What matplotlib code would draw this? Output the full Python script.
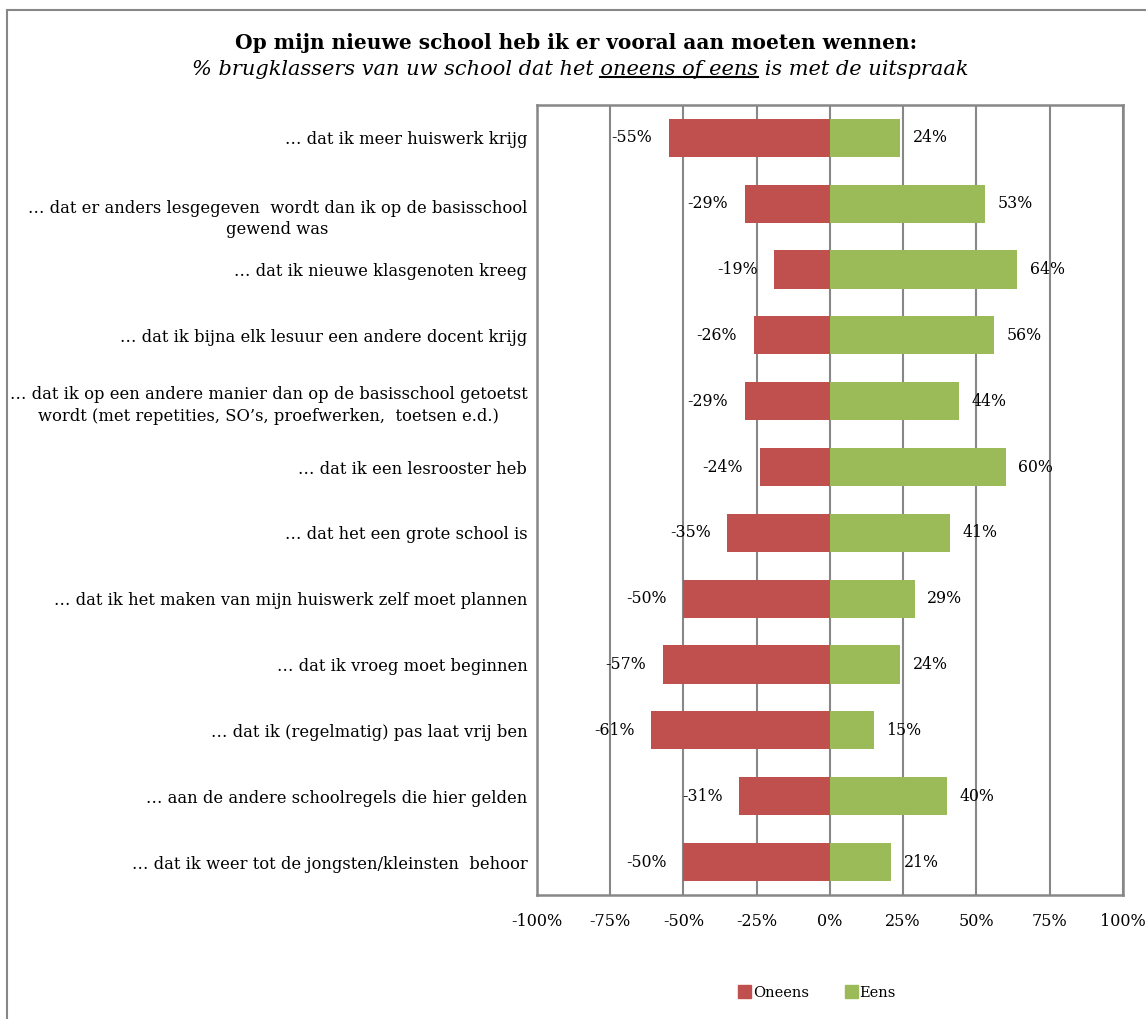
import matplotlib.pyplot as plt
from matplotlib.patches import Rectangle
from matplotlib.lines import Line2D
from matplotlib.transforms import ScaledTranslation
import numpy as np

plt.rcParams['font.family'] = ['DejaVu Serif']

categories = [
    "… dat ik meer huiswerk krijg",
    "… dat er anders lesgegeven  wordt dan ik op de basisschool\ngewend was",
    "… dat ik nieuwe klasgenoten kreeg",
    "… dat ik bijna elk lesuur een andere docent krijg",
    "… dat ik op een andere manier dan op de basisschool getoetst\nwordt (met repetities, SO’s, proefwerken,  toetsen e.d.)",
    "… dat ik een lesrooster heb",
    "… dat het een grote school is",
    "… dat ik het maken van mijn huiswerk zelf moet plannen",
    "… dat ik vroeg moet beginnen",
    "… dat ik (regelmatig) pas laat vrij ben",
    "… aan de andere schoolregels die hier gelden",
    "… dat ik weer tot de jongsten/kleinsten  behoor",
]
oneens = [-55, -29, -19, -26, -29, -24, -35, -50, -57, -61, -31, -50]
eens = [24, 53, 64, 56, 44, 60, 41, 29, 24, 15, 40, 21]
xticks = [-100, -75, -50, -25, 0, 25, 50, 75, 100]

red = '#C0504D'
green = '#9BBB59'
grey = '#878787'

fig = plt.figure(figsize=(11.46, 10.19), dpi=100)
fig.patches.append(Rectangle((7 / 1146, -0.05), 1.1, 1 - 10 / 1019 + 0.05,
                             transform=fig.transFigure, fill=False,
                             edgecolor=grey, linewidth=1.5))

ax = fig.add_axes([0.4686, 0.1217, 0.5111, 0.7753])
y = np.arange(len(categories))
ax.barh(y, oneens, height=0.58, color=red, zorder=3, label='Oneens')
ax.barh(y, eens, height=0.58, color=green, zorder=3, label='Eens')

for i in range(len(categories)):
    ax.annotate(f"{oneens[i]}%", (oneens[i], i), xytext=(-12, 0),
                textcoords='offset points', ha='right', va='center',
                fontsize=11.3, zorder=4)
    ax.annotate(f"{eens[i]}%", (eens[i], i), xytext=(9, 0),
                textcoords='offset points', ha='left', va='center',
                fontsize=11.3, zorder=4)

ax.set_xlim(-100, 100)
ax.set_ylim(len(categories) - 0.5, -0.5)
ax.set_xticks(xticks)
ax.set_xticklabels([f"{t}%" for t in xticks], fontsize=11.5)
ax.set_yticks(y)
ax.set_yticklabels(categories, fontsize=11.8, ha='right', multialignment='center',
                   linespacing=1.35)
ax.tick_params(axis='both', length=0)
ax.tick_params(axis='x', pad=13)
ax.tick_params(axis='y', pad=7)
ax.grid(axis='x', color=grey, linewidth=1.5, zorder=0)
for s in ax.spines.values():
    s.set_color(grey)
    s.set_linewidth(1.8)

# second label sits a bit lower in the original
lab = ax.get_yticklabels()[1]
lab.set_transform(lab.get_transform() + ScaledTranslation(0, -0.11, fig.dpi_scale_trans))

fig.canvas.draw()
r = fig.canvas.get_renderer()

fig.text(0.503, 0.958, "Op mijn nieuwe school heb ik er vooral aan moeten wennen:",
         ha='center', va='center', fontsize=14.5, fontweight='bold')

pre = "% brugklassers van uw school dat het "
mid = "oneens of eens"
post = " is met de uitspraak"
full = pre + mid + post
sub = fig.text(0.506, 0.932, full, ha='center', va='center', fontsize=15,
               style='italic')
fig.canvas.draw()
t1 = fig.text(0, 0, pre + mid, fontsize=15, style='italic')
t2 = fig.text(0, 0, mid, fontsize=15, style='italic')
w_pm = t1.get_window_extent(r).width
w_m = t2.get_window_extent(r).width
t1.remove()
t2.remove()
bbs = sub.get_window_extent(r)
x0 = bbs.x0 + (w_pm - w_m)
x1 = bbs.x0 + w_pm
yl = bbs.y0 + 2
fig.add_artist(Line2D([x0 / fig.bbox.width, x1 / fig.bbox.width],
                      [yl / fig.bbox.height] * 2, color='black', linewidth=1.5,
                      transform=fig.transFigure))

handles = [Rectangle((0, 0), 1, 1, color=red), Rectangle((0, 0), 1, 1, color=green)]
fig.legend(handles, ['Oneens', 'Eens'], loc='center', bbox_to_anchor=(0.713, 0.026),
           ncol=2, frameon=False, fontsize=10.5, handlelength=0.9,
           handleheight=0.9, handletextpad=0.1, columnspacing=2.5)

fig.savefig('out.png', dpi=100)
